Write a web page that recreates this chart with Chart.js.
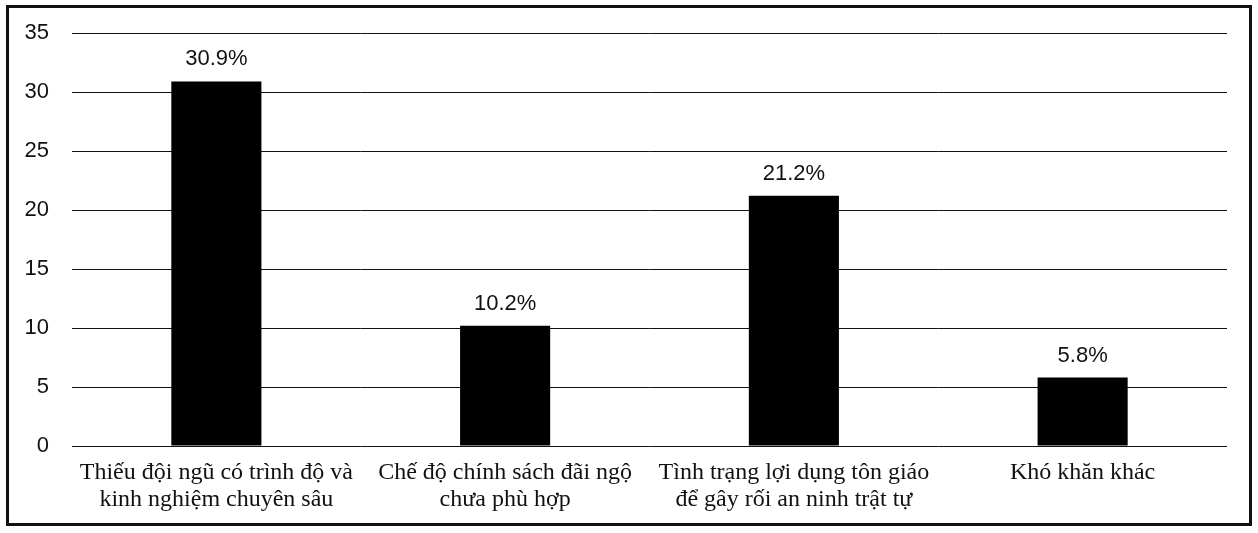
<!DOCTYPE html>
<html>
<head>
<meta charset="utf-8">
<script src="https://cdn.jsdelivr.net/npm/chart.js@4/dist/chart.umd.min.js"></script>
<style>
    html, body { margin: 0; padding: 0; background: #fff; }
    .frame {
        position: absolute;
        left: 6px;
        top: 5px;
        width: 1246px;
        height: 521px;
        box-sizing: border-box;
        border: 3px solid #111;
    }
    canvas { display: block; }
</style>
</head>
<body>
<div class="frame">
    <canvas id="chart" width="1240" height="515"></canvas>
</div>
<script>
// Chart data
const categories = [
    ['Thiếu đội ngũ có trình độ và', 'kinh nghiệm chuyên sâu'],
    ['Chế độ chính sách đãi ngộ', 'chưa phù hợp'],
    ['Tình trạng lợi dụng tôn giáo', 'để gây rối an ninh trật tự'],
    ['Khó khăn khác']
];
const values = [30.9, 10.2, 21.2, 5.8];
const valueLabels = ['30.9%', '10.2%', '21.2%', '5.8%'];
const yTicks = [0, 5, 10, 15, 20, 25, 30, 35];

// Percentage labels above bars
const barLabels = {
    id: 'barLabels',
    afterDatasetsDraw(chart) {
        const ctx = chart.ctx;
        const meta = chart.getDatasetMeta(0);
        ctx.save();
        ctx.font = '22px "Liberation Sans", Arial, sans-serif';
        ctx.fillStyle = '#111';
        ctx.textAlign = 'center';
        ctx.textBaseline = 'alphabetic';
        meta.data.forEach((bar, i) => {
            ctx.fillText(valueLabels[i], bar.x, bar.y - 16);
        });
        ctx.restore();
    }
};

new Chart(document.getElementById('chart'), {
    type: 'bar',
    data: {
        labels: categories,
        datasets: [{
            data: values,
            backgroundColor: '#000',
            borderWidth: 0,
            categoryPercentage: 1,
            barPercentage: 0.312
        }]
    },
    options: {
        responsive: false,
        animation: false,
        layout: { padding: { top: 25, right: 22, left: 0, bottom: 0 } },
        plugins: {
            legend: { display: false },
            tooltip: { enabled: false }
        },
        scales: {
            x: {
                grid: { display: false },
                border: { display: false },
                ticks: {
                    color: '#111',
                    padding: 5,
                    maxRotation: 0,
                    autoSkip: false,
                    font: { family: '"Liberation Serif", "Times New Roman", serif', size: 24, lineHeight: 1.125 }
                },
                afterFit(scale) { scale.height = 77; }
            },
            y: {
                min: 0,
                max: 35,
                afterBuildTicks(scale) {
                    scale.ticks = yTicks.map(v => ({ value: v }));
                },
                grid: { color: '#111', lineWidth: 1, drawTicks: false },
                border: { display: false },
                ticks: {
                    color: '#111',
                    padding: 23,
                    font: { family: '"Liberation Sans", Arial, sans-serif', size: 22 }
                },
                afterFit(scale) {
                    scale.width = 63;
                    scale.paddingTop = 0;
                    scale.paddingBottom = 0;
                }
            }
        }
    },
    plugins: [barLabels]
});
</script>
</body>
</html>
